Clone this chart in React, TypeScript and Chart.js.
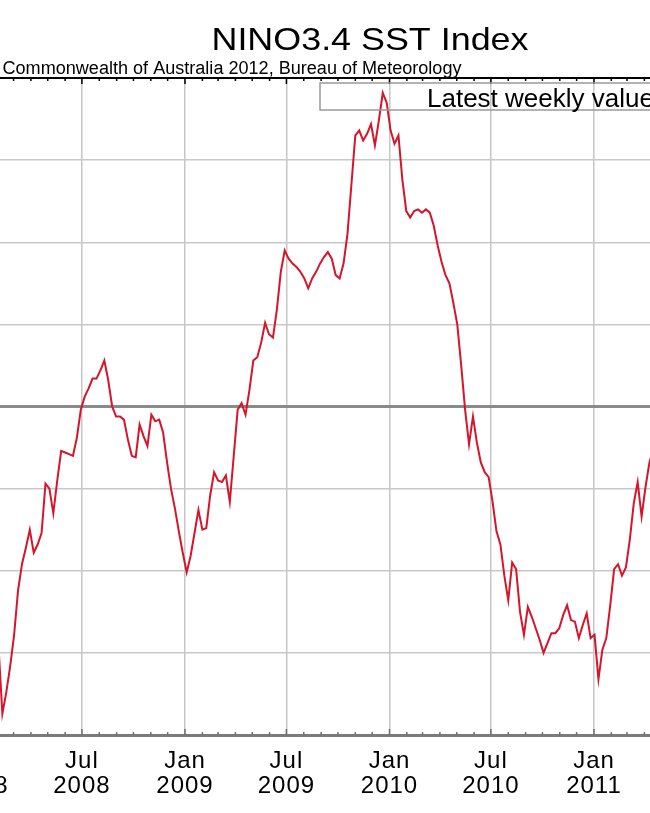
import React, { useEffect, useRef } from 'react';
import { Chart, registerables } from 'chart.js';

Chart.register(...registerables);

// ---------- data ----------
const TITLE = 'NINO3.4 SST Index';
const SUBTITLE = 'Commonwealth of Australia 2012, Bureau of Meteorology';
const LEGEND_TEXT = 'Latest weekly value';

const FIRST_WEEK = '2008-02-03';
const WEEK_STEP_DAYS = 7;
const X_MIN_DATE = '2007-09-16';
const X_MAX_DATE = '2011-04-11';

// weekly NINO3.4 SST anomaly (degC), one value per week from FIRST_WEEK
const NINO34_WEEKLY = [
  -1.45, -1.87, -1.74, -1.58, -1.39, -1.12, -0.96, -0.86, -0.75, -0.89,
  -0.84, -0.77, -0.47, -0.5, -0.65, -0.45, -0.27, -0.28, -0.29, -0.3,
  -0.19, -0.02, 0.06, 0.11, 0.17, 0.17, 0.22, 0.28, 0.16, 0.0,
  -0.06, -0.06, -0.08, -0.2, -0.3, -0.31, -0.11, -0.18, -0.24, -0.05,
  -0.09, -0.08, -0.16, -0.34, -0.5, -0.62, -0.76, -0.89, -1.01, -0.91,
  -0.77, -0.63, -0.75, -0.74, -0.54, -0.4, -0.45, -0.46, -0.42, -0.58,
  -0.3, -0.02, 0.02, -0.05, 0.1, 0.28, 0.3, 0.39, 0.51, 0.44,
  0.42, 0.59, 0.82, 0.95, 0.9, 0.87, 0.85, 0.82, 0.78, 0.72,
  0.78, 0.82, 0.87, 0.91, 0.94, 0.9, 0.8, 0.78, 0.87, 1.05,
  1.35, 1.65, 1.68, 1.62, 1.66, 1.72, 1.59, 1.74, 1.91, 1.85,
  1.68, 1.6, 1.65, 1.38, 1.19, 1.15, 1.19, 1.2, 1.18, 1.2,
  1.18, 1.1, 0.98, 0.88, 0.8, 0.75, 0.63, 0.5, 0.25, -0.02,
  -0.23, -0.06, -0.22, -0.34, -0.4, -0.43, -0.58, -0.76, -0.84, -1.03,
  -1.18, -0.95, -0.99, -1.25, -1.39, -1.22, -1.28, -1.35, -1.42, -1.5,
  -1.44, -1.38, -1.38, -1.35, -1.27, -1.21, -1.3, -1.31, -1.41, -1.33,
  -1.26, -1.41, -1.39, -1.66, -1.48, -1.41, -1.21, -0.99, -0.96, -1.03,
  -0.98, -0.81, -0.59, -0.46, -0.67, -0.49, -0.34, -0.26,
];

const MONTH_NAMES = ['Jan', 'Feb', 'Mar', 'Apr', 'May', 'Jun', 'Jul', 'Aug', 'Sep', 'Oct', 'Nov', 'Dec'];
const LABELLED_MONTHS = [0, 6];
const TICK_YEARS = [2007, 2008, 2009, 2010, 2011];
const Y_MIN = -2;
const Y_MAX = 2;
const Y_STEP = 0.5;

// ---------- helpers ----------
const DAY_MS = 86400000;
const dayOf = (iso: string) => Date.parse(iso + 'T00:00:00Z') / DAY_MS;
const isMajor = (v: number) => {
  const d = new Date(v * DAY_MS);
  return LABELLED_MONTHS.includes(d.getUTCMonth());
};

const OFFSET_X = 80; // canvas extends past the left edge of the picture
const CANVAS_W = 730;
const CANVAS_H = 813;
const FONT = '"Liberation Sans", Arial, Helvetica, sans-serif';

function drawFittedText(ctx: CanvasRenderingContext2D, text: string, x: number, y: number, size: number, width: number, align: 'left' | 'center') {
  ctx.save();
  ctx.letterSpacing = '0px';
  ctx.font = `${size}px ${FONT}`;
  ctx.fillStyle = '#000';
  ctx.textBaseline = 'alphabetic';
  ctx.textAlign = align;
  const w = ctx.measureText(text).width;
  ctx.translate(x, y);
  ctx.scale(width / w, 1);
  ctx.fillText(text, 0, 0);
  ctx.restore();
}

const decorPlugin = {
  id: 'decor',
  beforeDraw(chart: any) {
    chart.ctx.letterSpacing = '1px';
  },
  beforeDatasetsDraw(chart: any) {
    const { ctx, chartArea, scales } = chart;
    const xs = scales.x;
    ctx.save();
    ctx.lineWidth = 1.5;
    for (const t of xs.ticks) {
      const px = xs.getPixelForValue(t.value);
      const len = isMajor(t.value) ? 6 : 3;
      ctx.strokeStyle = '#6e6e6e';
      ctx.beginPath();
      ctx.moveTo(px, chartArea.bottom);
      ctx.lineTo(px, chartArea.bottom - len);
      ctx.stroke();
      ctx.strokeStyle = '#000';
      ctx.beginPath();
      ctx.moveTo(px, chartArea.top);
      ctx.lineTo(px, chartArea.top + len);
      ctx.stroke();
    }
    ctx.restore();
  },
  afterDraw(chart: any) {
    const ctx: CanvasRenderingContext2D = chart.ctx;
    drawFittedText(ctx, TITLE, OFFSET_X + 370, 50, 32, 317, 'center');
    drawFittedText(ctx, SUBTITLE, OFFSET_X + 2.5, 74, 18, 459, 'left');
    ctx.save();
    ctx.letterSpacing = '0px';
    ctx.strokeStyle = '#9a9a9a';
    ctx.lineWidth = 1.5;
    ctx.strokeRect(OFFSET_X + 320, 83, 400, 27);
    ctx.font = `26px ${FONT}`;
    ctx.fillStyle = '#000';
    ctx.textAlign = 'left';
    ctx.textBaseline = 'alphabetic';
    ctx.fillText(LEGEND_TEXT, OFFSET_X + 427, 107);
    ctx.restore();
  },
};

export default function App() {
  const canvasRef = useRef<HTMLCanvasElement | null>(null);

  useEffect(() => {
    document.body.style.margin = '0';
    const canvas = canvasRef.current;
    if (!canvas) return;
    const first = dayOf(FIRST_WEEK);
    const points = NINO34_WEEKLY.map((v, i) => ({ x: first + i * WEEK_STEP_DAYS, y: v }));

    const chart = new Chart(canvas, {
      type: 'line',
      data: {
        datasets: [
          {
            data: points,
            borderColor: '#d4152b',
            borderWidth: 2,
            pointRadius: 0,
            tension: 0,
            fill: false,
          },
        ],
      },
      options: {
        animation: false,
        responsive: false,
        events: [],
        layout: { padding: { top: 78, bottom: 13.6, left: 0, right: 0 } },
        plugins: { legend: { display: false }, tooltip: { enabled: false }, title: { display: false } },
        scales: {
          x: {
            type: 'linear',
            position: 'bottom',
            min: dayOf(X_MIN_DATE),
            max: dayOf(X_MAX_DATE),
            afterBuildTicks: (scale: any) => {
              const ticks: { value: number }[] = [];
              for (const y of TICK_YEARS) {
                for (let m = 0; m < 12; m++) {
                  const v = Date.UTC(y, m, 1) / DAY_MS;
                  if (v >= scale.min && v <= scale.max) ticks.push({ value: v });
                }
              }
              scale.ticks = ticks;
            },
            ticks: {
              autoSkip: false,
              maxRotation: 0,
              minRotation: 0,
              padding: 0,
              color: '#000',
              font: { family: FONT, size: 24, lineHeight: 1.07 },
              callback: (value: any) => {
                const d = new Date(Number(value) * DAY_MS);
                const m = d.getUTCMonth();
                return LABELLED_MONTHS.includes(m) ? [MONTH_NAMES[m], String(d.getUTCFullYear())] : '';
              },
            },
            grid: {
              drawTicks: true,
              tickLength: 13,
              tickColor: 'rgba(0,0,0,0)',
              color: (c: any) => (c.tick && isMajor(c.tick.value) ? '#c6c6c6' : 'rgba(0,0,0,0)'),
              lineWidth: 1.5,
            },
            border: { display: true, color: '#7a7a7a', width: 3 },
          },
          y: {
            type: 'linear',
            min: Y_MIN,
            max: Y_MAX,
            ticks: { display: false, stepSize: Y_STEP },
            grid: {
              drawTicks: false,
              color: (c: any) => {
                const v = c.tick ? c.tick.value : NaN;
                if (v === 0) return '#8a8a8a';
                if (v === Y_MAX) return '#000';
                if (v === Y_MIN) return 'rgba(0,0,0,0)';
                return '#c8c8c8';
              },
              lineWidth: (c: any) => {
                const v = c.tick ? c.tick.value : NaN;
                if (v === 0) return 3;
                if (v === Y_MAX) return 2;
                return 1.5;
              },
            },
            border: { display: false },
          },
        },
      },
      plugins: [decorPlugin],
    } as any);

    return () => chart.destroy();
  }, []);

  return (
    <div style={{ position: 'fixed', left: 0, top: 0, width: 650, height: 813, overflow: 'hidden', background: '#fff' }}>
      <canvas
        ref={canvasRef}
        width={CANVAS_W}
        height={CANVAS_H}
        style={{ position: 'absolute', left: -OFFSET_X, top: 0, width: CANVAS_W, height: CANVAS_H }}
      />
    </div>
  );
}
